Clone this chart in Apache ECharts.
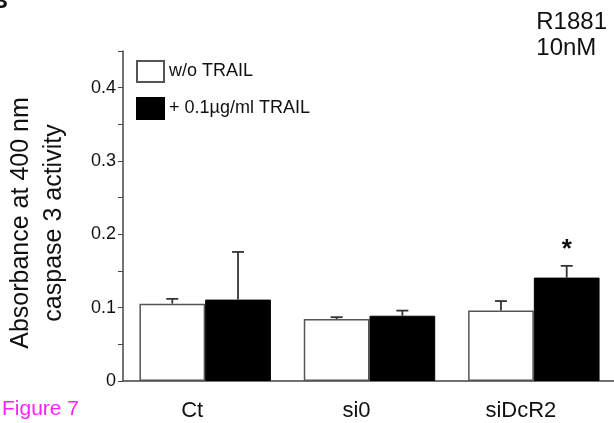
<!DOCTYPE html>
<html>
<head>
<meta charset="utf-8">
<script src="https://cdn.jsdelivr.net/npm/echarts@6/dist/echarts.min.js"></script>
<style>
  html, body { margin: 0; padding: 0; background: #fff; }
  #main { width: 614px; height: 423px; }
</style>
</head>
<body>
<div id="main"></div>
<script>
// data
var categories = ["Ct", "si0", "siDcR2"];
var seriesNames = ["w/o TRAIL", "+ 0.1\u00b5g/ml TRAIL"];
var controlMean = [0.1055, 0.0845, 0.096];
var controlErr = [0.0065, 0.0025, 0.013];
var trailMean = [0.111, 0.089, 0.141];
var trailErr = [0.065, 0.007, 0.016];
var sigMarks = ["", "", "*"];
var yTicks = [0, 0.1, 0.2, 0.3, 0.4];

var font = "'Liberation Sans', Arial, sans-serif";
var myChart = echarts.init(document.getElementById("main"));

// error bar drawn on top of each bar (only the upper half, like the figure)
function errorBars(means, errs, side, marks) {
  return {
    type: "custom",
    z: 10,
    silent: true,
    data: means.map(function (m, i) { return [i, m, errs[i]]; }),
    renderItem: function (params, api) {
      var idx = api.value(0);
      var catW = api.size([1, 0])[0];
      var base = api.coord([idx, api.value(1)]);
      var top = api.coord([idx, api.value(1) + api.value(2)]);
      var x = base[0] + side * catW * 0.2;
      var children = [
        { type: "line", shape: { x1: x, y1: base[1], x2: x, y2: top[1] },
          style: { stroke: "#333", lineWidth: 1.8 } },
        { type: "line", shape: { x1: x - 6, y1: top[1], x2: x + 6, y2: top[1] },
          style: { stroke: "#333", lineWidth: 1.8 } }
      ];
      if (marks && marks[idx]) {
        children.push({
          type: "text",
          style: { x: x, y: top[1] - 16, text: marks[idx], fill: "#111",
            font: "bold 26px " + font, align: "center", verticalAlign: "middle" }
        });
      }
      return { type: "group", children: children };
    }
  };
}

var option = {
  backgroundColor: "#fff",
  animation: false,
  textStyle: { fontFamily: font },
  grid: { left: 123, right: -2, top: 51, bottom: 42, outerBoundsMode: "none", containLabel: false },
  legend: {
    orient: "vertical",
    left: 131,
    top: 55,
    itemWidth: 27,
    itemHeight: 21,
    itemGap: 14,
    icon: "rect",
    data: seriesNames,
    textStyle: { fontSize: 18, color: "#111", fontFamily: font }
  },
  xAxis: {
    type: "category",
    data: categories,
    axisLine: { lineStyle: { color: "#444", width: 1.5 } },
    axisTick: { length: 4, lineStyle: { color: "#444" } },
    axisLabel: { fontSize: 22, color: "#111", margin: 19, padding: [0, 26, 0, 0], fontFamily: font }
  },
  yAxis: {
    type: "value",
    min: 0,
    max: 0.45,
    interval: 0.05,
    name: "Absorbance at 400 nm\ncaspase 3 activity",
    nameLocation: "middle",
    nameGap: 52,
    nameTextStyle: { fontSize: 25, lineHeight: 33, color: "#111", fontFamily: font, padding: [0, 14, 0, 0] },
    splitLine: { show: false },
    axisLine: { show: true, lineStyle: { color: "#444", width: 1.5 } },
    axisTick: { show: true, length: 5, lineStyle: { color: "#444" } },
    axisLabel: {
      fontSize: 18,
      color: "#111",
      margin: 7,
      fontFamily: font,
      formatter: function (v) {
        var hit = yTicks.filter(function (t) { return Math.abs(t - v) < 1e-6; });
        return hit.length ? String(hit[0]) : "";
      }
    }
  },
  graphic: [
    { type: "text", left: 2, top: 399, style: { text: "Figure 7", fill: "#ff22ff", font: "21px " + font } },
    { type: "text", right: 7, top: 9, style: { text: "R1881\n10nM", fill: "#111", font: "24px " + font, align: "right", lineHeight: 26 } },
    { type: "text", left: -8, top: -9, style: { text: "B", fill: "#111", font: "bold 22px " + font } }
  ],
  series: [
    {
      name: seriesNames[0],
      type: "bar",
      data: controlMean,
      barGap: "0%",
      barCategoryGap: "20%",
      itemStyle: { color: "#fff", borderColor: "#555", borderWidth: 1.5 }
    },
    {
      name: seriesNames[1],
      type: "bar",
      data: trailMean,
      itemStyle: { color: "#000", borderColor: "#000", borderWidth: 1 }
    },
    errorBars(controlMean, controlErr, -1, null),
    errorBars(trailMean, trailErr, 1, sigMarks)
  ]
};

myChart.setOption(option);
</script>
</body>
</html>
